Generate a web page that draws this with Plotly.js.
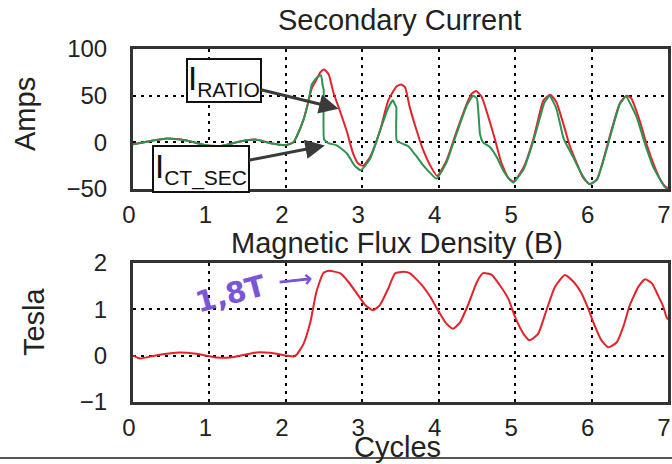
<!DOCTYPE html>
<html>
<head>
<meta charset="utf-8">
<script src="https://cdn.plot.ly/plotly-3.0.1.min.js"></script>
<style>html,body{margin:0;padding:0;background:#fff;}#chart{width:672px;height:464px;}</style>
</head>
<body>
<div id="chart"></div>
<script>
// ---- data ----
const cyclesRatio = [0,0.2,0.45,0.7,0.95,1.15,1.4,1.6,1.8,2.0,2.1,2.14,2.23,2.29,2.34,2.40,2.45,2.50,2.56,2.62,2.71,2.80,2.88,2.95,3.01,3.10,3.23,3.34,3.45,3.51,3.56,3.62,3.71,3.80,3.89,3.98,4.10,4.24,4.37,4.43,4.49,4.56,4.65,4.74,4.82,4.91,4.98,5.11,5.24,5.30,5.37,5.46,5.54,5.63,5.72,5.81,5.89,5.98,6.07,6.15,6.26,6.37,6.46,6.52,6.63,6.72,6.81,6.90,6.96,7.0];
const iRatio = [-2,1,4,2,-3,-4,1,3,-1,-3,0,6,24,42,58,67,75,78,73,54,33,11,-12,-23,-25,-16,12,45,60,62,59,38,13,-9,-25,-36,-20,13,42,52,55,49,27,2,-22,-38,-42,-27,4,24,45,51,43,20,-5,-23,-38,-45,-40,-20,13,42,50,47,23,-2,-23,-40,-47,-49];

const cyclesCt = [0,0.2,0.45,0.7,0.95,1.15,1.4,1.6,1.8,2.0,2.1,2.14,2.23,2.29,2.34,2.40,2.46,2.48,2.495,2.50,2.56,2.66,2.80,2.90,2.98,3.10,3.23,3.34,3.40,3.43,3.445,3.45,3.54,3.60,3.69,3.80,3.89,3.97,4.10,4.24,4.37,4.45,4.50,4.54,4.58,4.67,4.76,4.85,4.93,4.98,5.11,5.24,5.32,5.38,5.45,5.54,5.63,5.67,5.76,5.87,5.97,6.07,6.15,6.26,6.37,6.45,6.59,6.70,6.81,6.96,7.0];
const iCtSec = [-2,1,4,2,-3,-4,1,3,-1,-3,0,6,24,42,62,69,72,62,56,3,-1,-3,-12,-25,-30,-18,12,37,45,40,38,2,-2,-4,-13,-25,-33,-39,-22,11,40,50,47,9,0,-5,-16,-31,-40,-43,-29,2,25,42,50,36,5,-2,-16,-34,-45,-40,-21,11,41,49,27,-2,-27,-48,-50];

const cyclesB = [0,0.09,0.31,0.61,0.83,1.10,1.27,1.62,1.84,2.01,2.10,2.14,2.23,2.32,2.40,2.49,2.56,2.71,2.82,2.93,3.04,3.14,3.23,3.34,3.43,3.54,3.62,3.76,3.89,3.99,4.10,4.19,4.28,4.39,4.50,4.58,4.69,4.80,4.91,5.00,5.11,5.19,5.30,5.41,5.52,5.65,5.76,5.87,5.96,6.04,6.13,6.22,6.33,6.42,6.50,6.61,6.70,6.79,6.87,6.94,6.98,7.0];
const fluxB = [0,-0.06,0.01,0.07,0.04,-0.04,-0.04,0.07,0.05,0.0,-0.02,0.02,0.25,0.72,1.38,1.78,1.83,1.78,1.59,1.34,1.09,0.98,1.09,1.45,1.78,1.81,1.78,1.56,1.27,0.98,0.69,0.58,0.72,1.12,1.59,1.78,1.75,1.52,1.23,0.83,0.47,0.33,0.47,0.98,1.48,1.74,1.6,1.34,1.0,0.65,0.33,0.18,0.29,0.65,1.09,1.48,1.65,1.56,1.30,1.05,0.83,0.78];

const xTicks = [0,1,2,3,4,5,6,7];
const ampTicks = [-50,0,50,100];
const teslaTicks = [-1,0,1,2];

// ---- chart ----
const FONT = 'Liberation Sans, Arial, sans-serif';
const RED = '#e3232b', GREEN = '#2d9350';

const traces = [
  {x: cyclesRatio, y: iRatio, xaxis:'x', yaxis:'y', type:'scatter', mode:'lines', name:'I_RATIO',
   line:{color:RED, width:2, shape:'spline', smoothing:0.5}},
  {x: cyclesCt, y: iCtSec, xaxis:'x', yaxis:'y', type:'scatter', mode:'lines', name:'I_CT_SEC',
   line:{color:GREEN, width:2, shape:'spline', smoothing:0.4}},
  {x: cyclesB, y: fluxB, xaxis:'x2', yaxis:'y2', type:'scatter', mode:'lines', name:'B',
   line:{color:RED, width:2, shape:'spline', smoothing:0.5}}
];

const axisCommon = {
  showline:true, mirror:true, linecolor:'#333', linewidth:3,
  showgrid:true, gridcolor:'#000', gridwidth:2, griddash:'3px,5px',
  zeroline:false, ticks:'outside', tickcolor:'rgba(0,0,0,0)',
  tickfont:{family:FONT, size:24, color:'#222'}, fixedrange:true
};
const xCommon = {range:[0,7], tickvals:xTicks, ticklen:2, ticklabelshift:-4, ticklabeloverflow:'allow'};

const layout = {
  width:672, height:464,
  margin:{l:133, r:4, t:49, b:62},
  paper_bgcolor:'#fff', plot_bgcolor:'#fff',
  showlegend:false,
  font:{family:FONT, color:'#222'},
  xaxis: Object.assign({}, axisCommon, xCommon, {anchor:'y', domain:[0,1]}),
  yaxis: Object.assign({}, axisCommon, {anchor:'x', domain:[0.6034,1], range:[-50,100], tickvals:ampTicks, ticklen:18}),
  xaxis2: Object.assign({}, axisCommon, xCommon, {anchor:'y2', domain:[0,1]}),
  yaxis2: Object.assign({}, axisCommon, {anchor:'x2', domain:[0,0.3938], range:[-1,2], tickvals:teslaTicks, ticklen:18}),
  shapes:[
    {type:'line', xref:'paper', yref:'paper', x0:-0.3, x1:1.01, y0:-0.1586, y1:-0.1586, line:{color:'#555', width:2}}
  ],
  annotations:[
    {text:'Secondary Current', xref:'paper', yref:'paper', x:0.499, y:1.0822, xanchor:'center', yanchor:'middle', showarrow:false, font:{family:FONT, size:29, color:'#222'}},
    {text:'Magnetic Flux Density (B)', xref:'paper', yref:'paper', x:0.4935, y:0.4504, xanchor:'center', yanchor:'middle', showarrow:false, font:{family:FONT, size:29, color:'#222'}},
    {text:'Cycles', xref:'paper', yref:'paper', x:0.4935, y:-0.1275, xanchor:'center', yanchor:'middle', showarrow:false, font:{family:FONT, size:29, color:'#222'}},
    {text:'Amps', xref:'paper', yref:'paper', x:-0.2019, y:0.8159, xanchor:'center', yanchor:'middle', textangle:-90, showarrow:false, font:{family:FONT, size:29, color:'#222'}},
    {text:'Tesla', xref:'paper', yref:'paper', x:-0.185, y:0.2266, xanchor:'center', yanchor:'middle', textangle:-90, showarrow:false, font:{family:FONT, size:29, color:'#222'}},
    {text:'I<sub><span style="font-size:21px">RATIO</span></sub>', xref:'x', yref:'y', x:2.69, y:36, axref:'x', ayref:'y', ax:1.19, ay:66,
     showarrow:true, arrowhead:2, arrowsize:1.3, arrowwidth:3, arrowcolor:'#3a3a3a',
     bgcolor:'#fff', bordercolor:'#111', borderwidth:2, borderpad:0, font:{family:FONT, size:33, color:'#111'}},
    {text:'I<sub><span style="font-size:21px">CT_SEC</span></sub>', xref:'x', yref:'y', x:2.51, y:-3.5, axref:'x', ayref:'y', ax:0.89, ay:-29,
     showarrow:true, arrowhead:2, arrowsize:1.3, arrowwidth:3, arrowcolor:'#3a3a3a',
     bgcolor:'#fff', bordercolor:'#111', borderwidth:2, borderpad:1, font:{family:FONT, size:33, color:'#111'}},
    {text:'<b>1,8T</b>', xref:'x2', yref:'y2', x:1.27, y:1.32, showarrow:false, textangle:-15,
     font:{family:'DejaVu Sans, sans-serif', size:29, color:'#7b55d8'}},
    {text:'<b>⟶</b>', xref:'x2', yref:'y2', x:2.12, y:1.63, showarrow:false, textangle:-6,
     font:{family:'DejaVu Sans, sans-serif', size:24, color:'#7b55d8'}}
  ]
};

Plotly.newPlot('chart', traces, layout, {staticPlot:true, displayModeBar:false});
</script>
</body>
</html>
